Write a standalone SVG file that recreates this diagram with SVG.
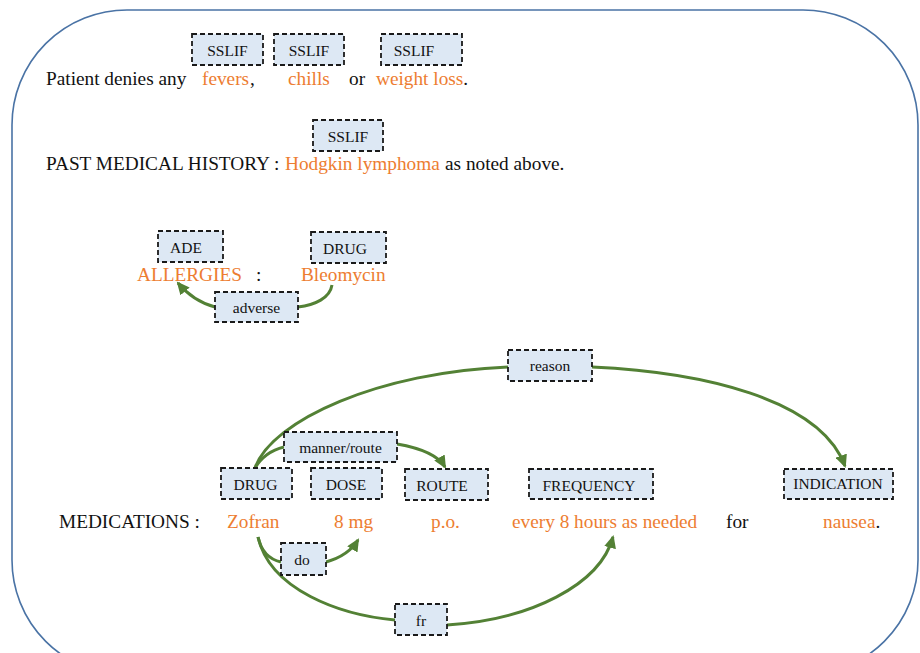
<svg xmlns="http://www.w3.org/2000/svg" width="920" height="653" viewBox="0 0 920 653">
<style>
.t{font-family:'Liberation Serif','Times New Roman',serif;font-size:19.3px;fill:#111}
.o{fill:#ed7d31}
.b rect{fill:#dde8f4;stroke:#1a1a1a;stroke-width:1.8;stroke-dasharray:5,3}
.b text{font-family:'Liberation Serif','Times New Roman',serif;font-size:15.5px;fill:#111;text-anchor:middle}
.c path{fill:none;stroke:#538135;stroke-width:3}
.c .a{marker-end:url(#ah)}
</style>
<defs>
<marker id="ah" markerUnits="userSpaceOnUse" markerWidth="14" markerHeight="12" refX="11" refY="6" orient="auto" viewBox="0 0 14 12">
<path d="M0,0 L13,6 L0,12 Z" fill="#538135"/>
</marker>
</defs>
<rect x="12" y="10" width="906" height="665" rx="115" ry="115" fill="#fff" stroke="#4a73a5" stroke-width="1.6"/>

<g id="sentence1">
<text class="t" x="46" y="85">Patient denies any</text>
<text class="t o" x="202" y="85">fevers</text>
<text class="t" x="250" y="85">,</text>
<text class="t o" x="288" y="85">chills</text>
<text class="t" x="349" y="85">or</text>
<text class="t" x="376" y="85"><tspan class="o">weight loss</tspan>.</text>
</g>
<g id="sentence2">
<text class="t" x="46" y="170">PAST MEDICAL HISTORY :</text>
<text class="t o" x="285" y="170">Hodgkin lymphoma</text>
<text class="t" x="445" y="170">as noted above.</text>
</g>
<g id="sentence3">
<text class="t o" x="137" y="281">ALLERGIES</text>
<text class="t" x="256" y="281">:</text>
<text class="t o" x="301" y="281">Bleomycin</text>
</g>
<g id="sentence4">
<text class="t" x="59" y="528">MEDICATIONS :</text>
<text class="t o" x="227" y="528">Zofran</text>
<text class="t o" x="334" y="528">8 mg</text>
<text class="t o" x="431" y="528">p.o.</text>
<text class="t o" x="512" y="528">every 8 hours as needed</text>
<text class="t" x="726" y="528">for</text>
<text class="t" x="823" y="528"><tspan class="o">nausea</tspan>.</text>
</g>

<g id="connectors" class="c">
<path d="M332,285 C330,298 315,305 298,307"/>
<path class="a" d="M215,307 C200,303 188,295 178,283"/>
<path d="M255,468 C272,420 380,372 508,367"/>
<path class="a" d="M592,367 C700,372 820,398 845,466"/>
<path d="M255,468 C262,456 272,450 284,447"/>
<path class="a" d="M397,444 C420,448 438,455 445,467"/>
<path d="M258,537 C262,555 272,560 281,562"/>
<path class="a" d="M326,562 C340,558 352,550 358,540"/>
<path d="M258,537 C270,590 340,615 395,620"/>
<path class="a" d="M447,625 C530,620 600,585 613,537"/>
</g>

<g id="sslif1" class="b"><rect x="192" y="34" width="71" height="31"/><text x="227.5" y="56">SSLIF</text></g>
<g id="sslif2" class="b"><rect x="274" y="34" width="70" height="31"/><text x="309" y="56">SSLIF</text></g>
<g id="sslif3" class="b"><rect x="381" y="34" width="81" height="31"/><text x="414" y="56">SSLIF</text></g>
<g id="sslif4" class="b"><rect x="313" y="120" width="70" height="31"/><text x="348" y="142">SSLIF</text></g>
<g id="ade" class="b"><rect x="158" y="231" width="65" height="31"/><text x="186" y="253">ADE</text></g>
<g id="drug1" class="b"><rect x="311" y="232" width="75" height="31"/><text x="345" y="254">DRUG</text></g>
<g id="adverse" class="b"><rect x="215" y="292" width="83" height="30"/><text x="256.5" y="313">adverse</text></g>
<g id="reason" class="b"><rect x="508" y="350" width="84" height="31"/><text x="550" y="371">reason</text></g>
<g id="manner" class="b"><rect x="284" y="432" width="113" height="30"/><text x="340.5" y="453">manner/route</text></g>
<g id="drug2" class="b"><rect x="221" y="468" width="71" height="31"/><text x="255.5" y="490">DRUG</text></g>
<g id="dose" class="b"><rect x="311" y="468" width="71" height="31"/><text x="346" y="490">DOSE</text></g>
<g id="route" class="b"><rect x="405" y="469" width="83" height="31"/><text x="442" y="491">ROUTE</text></g>
<g id="frequency" class="b"><rect x="529" y="469" width="124" height="30"/><text x="589" y="491">FREQUENCY</text></g>
<g id="indication" class="b"><rect x="784" y="469" width="109" height="30"/><text x="838" y="489">INDICATION</text></g>
<g id="do" class="b"><rect x="281" y="543" width="45" height="32"/><text x="302" y="565">do</text></g>
<g id="fr" class="b"><rect x="395" y="604" width="52" height="31"/><text x="421" y="626">fr</text></g>
</svg>
